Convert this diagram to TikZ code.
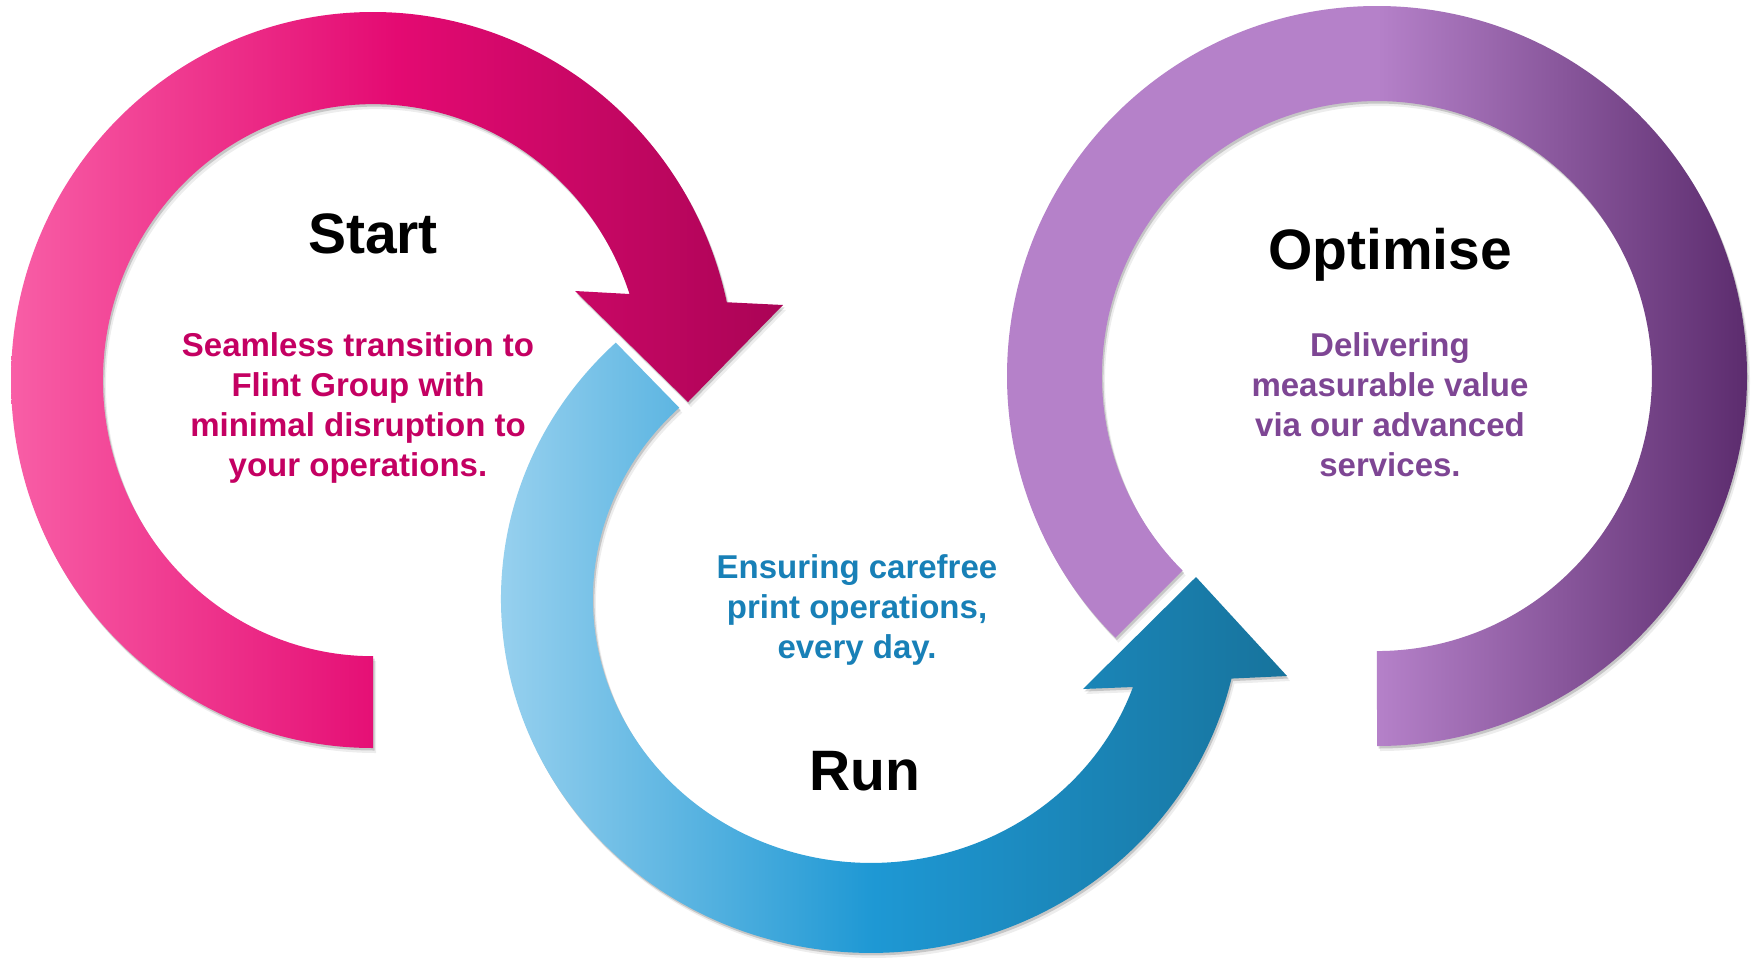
\documentclass[tikz,border=0pt]{standalone}
\usepackage{fontspec}
\setmainfont{Liberation Sans}
\definecolor{pinkL}{RGB}{248,94,166}
\definecolor{pinkM}{RGB}{228,10,114}
\definecolor{pinkR}{RGB}{170,4,86}
\definecolor{blueL}{RGB}{163,214,241}
\definecolor{blueM}{RGB}{30,152,212}
\definecolor{blueR}{RGB}{23,115,156}
\definecolor{purpleL}{RGB}{181,129,201}
\definecolor{purpleR}{RGB}{92,44,110}
\definecolor{pinkT}{RGB}{196,0,98}
\definecolor{blueT}{RGB}{24,128,183}
\definecolor{purpleT}{RGB}{126,70,148}
\newcommand\pinkpath{(373,748) arc[start angle=90, end angle=347.8, x radius=362, y radius=368] -- (783,305) -- (688,402) -- (575,291) -- (629.5,294) arc[start angle=341.8, end angle=90, x radius=270, y radius=276] -- cycle}
\newcommand\bluepath{(615.8,342.6) arc[start angle=226.4, end angle=13, x radius=370, y radius=354] -- (1287,676) -- (1196,577) -- (1083,689) -- (1133,687) arc[start angle=19.5, end angle=226.4, x radius=278, y radius=264] -- cycle}
\newcommand\purplepath{(1377,746) arc[start angle=90, end angle=-225, radius=370] -- (1182.5,570.5) arc[start angle=-225, end angle=90, radius=275] -- cycle}
\begin{document}
\begin{tikzpicture}[x=1pt,y=-1pt,
  shadowA/.style={fill=black, fill opacity=0.16, shift={(1.5,2.5)}},
  shadowB/.style={fill=black, fill opacity=0.07, shift={(3,5)}},
  pinkring/.style={left color=pinkL, right color=pinkR, middle color=pinkM},
  bluering/.style={left color=blueL, right color=blueR, middle color=blueM},
  purplering/.style={left color=purpleL, right color=purpleR, middle color=purpleL},
  title/.style={font=\fontsize{57}{68}\selectfont\bfseries, inner sep=0pt, anchor=base, text=black},
  body/.style={font=\fontsize{33}{40}\selectfont\bfseries, inner sep=0pt, anchor=base}]
\useasboundingbox (0,0) rectangle (1756,967);
\fill[white] (0,0) rectangle (1756,967);
% shadows
\fill[shadowB] \pinkpath;
\fill[shadowA] \pinkpath;
\fill[shadowB] \bluepath;
\fill[shadowA] \bluepath;
\fill[shadowB] \purplepath;
\fill[shadowA] \purplepath;
% rings
\path[pinkring] \pinkpath;
\path[bluering] \bluepath;
\path[purplering] \purplepath;
% titles
\node[title] (start) at (373,253) {Start};
\node[title] (run) at (865,790) {Run};
\node[title] (optimise) at (1390,269) {Optimise};
% body texts
\node[body, text=pinkT] (starttext) at (358,356) {\begin{tabular}[t]{@{}c@{}}Seamless transition to\\Flint Group with\\minimal disruption to\\your operations.\end{tabular}};
\node[body, text=blueT] (runtext) at (857,578) {\begin{tabular}[t]{@{}c@{}}Ensuring carefree\\print operations,\\every day.\end{tabular}};
\node[body, text=purpleT] (optimisetext) at (1390,356) {\begin{tabular}[t]{@{}c@{}}Delivering\\measurable value\\via our advanced\\services.\end{tabular}};
\end{tikzpicture}
\end{document}
